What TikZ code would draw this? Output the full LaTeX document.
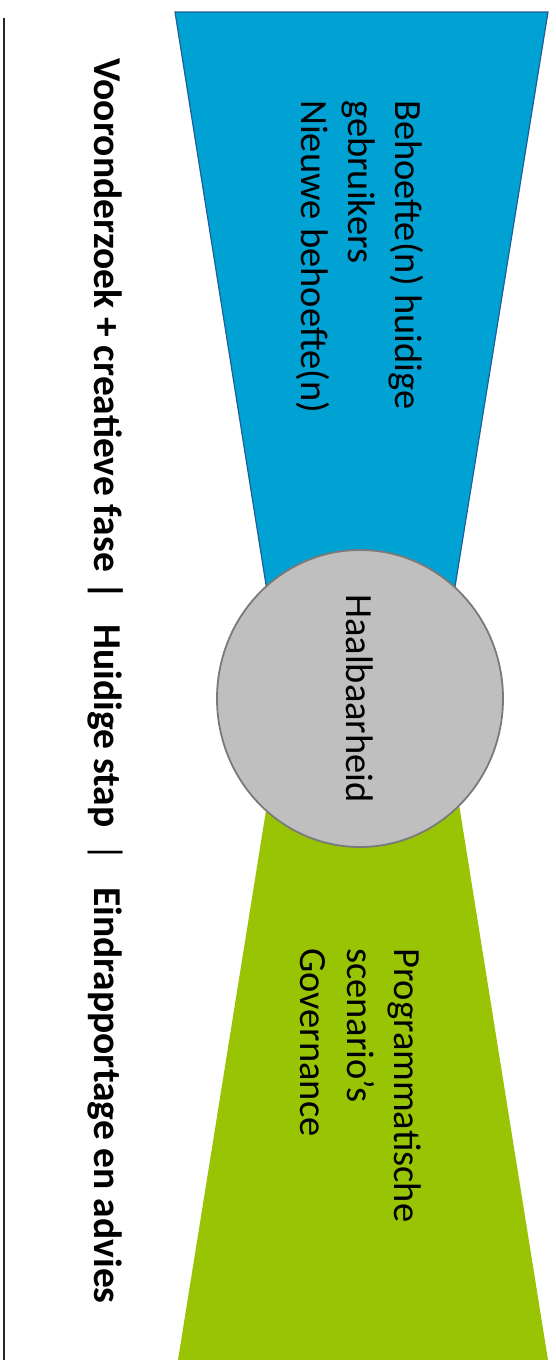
\documentclass[tikz,border=0pt]{standalone}
\usepackage{fontspec}
\setmainfont{Carlito}
\usetikzlibrary{shapes.geometric}
\definecolor{fblue}{HTML}{00A2D3}
\definecolor{lblue}{HTML}{1F5E9A}
\definecolor{fgreen}{HTML}{99C404}
\definecolor{fgray}{HTML}{BFBFBF}
\definecolor{lgray}{HTML}{7A7A7A}
\begin{document}
\begin{tikzpicture}[x=1pt,y=-1pt,
  vtext/.style={rotate=-90, inner sep=0pt, font=\fontsize{38.5}{47}\selectfont, align=left, anchor=north west},
  boldline/.style={rotate=-90, inner sep=0pt, font=\fontsize{39.5}{46}\selectfont, anchor=base west}]
\useasboundingbox (0,0) rectangle (556,1360);
\coordinate (lt) at (4,18);
\coordinate (lb) at (4,1360);
\draw[line width=1.6pt, black!85] (lt) -- (lb);
\filldraw[fill=fblue, draw=lblue, line width=1.2pt] (175,12) -- (548,12) -- (437,698) -- (284,698) -- cycle;
\fill[fgreen] (284,698) -- (442,698) -- (548,1360) -- (178,1360) -- cycle;
\node[ellipse, draw=lgray, fill=fgray, line width=1.8pt, minimum width=297pt, minimum height=286pt, rotate=-90, inner sep=0pt, font=\fontsize{38.5}{46}\selectfont] (haal) at (360,698.5) {Haalbaarheid};
\node[vtext] (blue) at (424,100) {Behoefte(n) huidige\\gebruikers\\Nieuwe behoefte(n)};
\node[vtext] (green) at (421,948) {Programmatische\\scenario’s\\Governance};
\node[boldline] (phase) at (94,58) {\textbf{Vooronderzoek + creatieve fase\hspace{0.25em}|\hspace{0.6em}Huidige stap}\hspace{0.4em}|\hspace{0.65em}\textbf{Eindrapportage en advies}};
\end{tikzpicture}
\end{document}
